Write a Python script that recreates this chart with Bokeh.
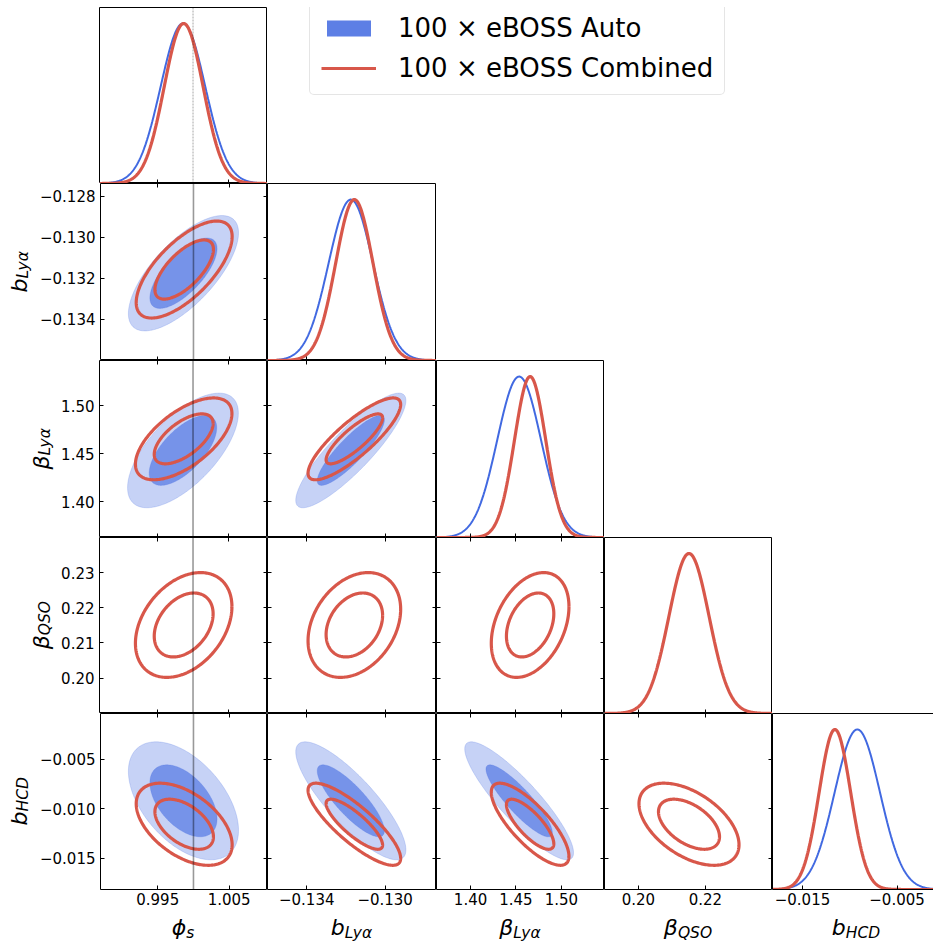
import numpy as np
from bokeh.plotting import figure
from bokeh.models import Range1d, FixedTicker, LinearAxis, Span, Legend, LegendItem, Div
from bokeh.layouts import column, row
from bokeh.embed import file_html
from bokeh.resources import INLINE

# ---------------- data ----------------
param_symbols = ["ϕ", "b", "β", "β", "b"]
param_subscripts = ["s", "Lyα", "Lyα", "QSO", "HCD"]
param_limits = [(0.98699, 1.01036), (-0.13600, -0.12738), (1.3625, 1.5475),
                (0.1899, 0.2400), (-0.01817, -0.00037)]

x_tick_values = [[0.995, 1.005], [-0.134, -0.130], [1.40, 1.45, 1.50], [0.20, 0.22], [-0.015, -0.005]]
x_tick_labels = [["0.995", "1.005"], ["−0.134", "−0.130"], ["1.40", "1.45", "1.50"],
                 ["0.20", "0.22"], ["−0.015", "−0.005"]]
y_tick_values = [[], [-0.134, -0.132, -0.130, -0.128], [1.40, 1.45, 1.50],
                 [0.20, 0.21, 0.22, 0.23], [-0.015, -0.010, -0.005]]
y_tick_labels = [[], ["−0.134", "−0.132", "−0.130", "−0.128"], ["1.40", "1.45", "1.50"],
                 ["0.20", "0.21", "0.22", "0.23"], ["−0.015", "−0.010", "−0.005"]]

phi_s_reference = 1.0

auto_label = "100 × eBOSS Auto"
auto_means = [0.99860, -0.13175, 1.4535, None, -0.0092]
auto_sigmas = [0.0031, 0.00113, 0.0241, None, 0.0024]
auto_corr = {(0, 1): 0.70, (0, 2): 0.65, (0, 4): -0.50,
             (1, 2): 0.87, (1, 4): -0.83, (2, 4): -0.88}

comb_label = "100 × eBOSS Combined"
comb_means = [0.99870, -0.13157, 1.4656, 0.2151, -0.01157]
comb_sigmas = [0.0027, 0.00095, 0.0172, 0.0060, 0.00167]
comb_corr = {(0, 1): 0.68, (0, 2): 0.62, (0, 3): 0.35, (0, 4): -0.50,
             (1, 2): 0.84, (1, 3): 0.30, (1, 4): -0.83,
             (2, 3): 0.35, (2, 4): -0.78, (3, 4): -0.50}

contour_delta_chi2 = [2.30, 6.18]   # 68% and 95% levels

# ---------------- layout / style ----------------
col_edges = [99, 267, 436, 604, 772, 933]
row_edges = [7, 183, 360, 537, 713, 889]
bottom_tick_band = 28
title_band = 27
full_panel_w = 168.3
ytitle_width = [0, 36, 58, 58, 36]

BLUE = "#4169E1"
RED = "#D8574A"
FONT = "DejaVu Sans"
N = len(param_symbols)


def title_html(i):
    return (f"{param_symbols[i]}<sub style=\"font-size:15.5px;vertical-align:-3px;"
            f"line-height:0\">{param_subscripts[i]}</sub>")


def tick_axis(p, side, ticks, labels=None, line=False):
    ax = LinearAxis(ticker=FixedTicker(ticks=ticks, minor_ticks=[]))
    ax.axis_line_color = "black" if line else None
    ax.major_tick_in = 4
    ax.major_tick_out = 0
    ax.major_tick_line_color = "black"
    ax.major_tick_line_width = 1
    ax.minor_tick_line_color = None
    if labels:
        ax.major_label_overrides = {t: l for t, l in zip(ticks, labels)}
        ax.major_label_text_font = FONT
        ax.major_label_text_font_size = "15px"
        ax.major_label_text_color = "black"
        ax.major_label_standoff = 5 if side == "left" else 3
    else:
        ax.major_label_overrides = {t: "" for t in ticks}
        ax.major_label_text_font_size = "0px"
        ax.major_label_standoff = 0
    p.add_layout(ax, side)
    return ax


def ellipse(mx, my, sx, sy, rho, k, n=240):
    t = np.linspace(0, 2 * np.pi, n)
    x = mx + k * sx * np.cos(t)
    y = my + k * sy * (rho * np.cos(t) + np.sqrt(1 - rho ** 2) * np.sin(t))
    return x, y


def make_panel(r, c):
    fw = col_edges[c + 1] - col_edges[c]
    fh = row_edges[r + 1] - row_edges[r]
    bl = (col_edges[0] - ytitle_width[r]) if c == 0 else 0
    bt = row_edges[0] if r == 0 else 0
    bb = bottom_tick_band if r == N - 1 else 0
    x0, x1 = param_limits[c]
    if c == N - 1:
        x1 = x0 + (x1 - x0) * fw / full_panel_w
    yr = Range1d(0, 1.1) if r == c else Range1d(*param_limits[r])
    p = figure(width=fw + bl, height=fh + bt + bb, x_range=Range1d(x0, x1), y_range=yr,
               x_axis_type=None, y_axis_type=None, toolbar_location=None,
               output_backend="svg", min_border_left=bl, min_border_right=0,
               min_border_top=bt, min_border_bottom=bb, margin=0)
    p.outline_line_color = "black"
    p.outline_line_width = 1
    p.border_fill_color = "white"
    p.background_fill_color = "white"
    return p, fw, fh


panels = {}
for r in range(N):
    for c in range(r + 1):
        p, fw, fh = make_panel(r, c)
        last_col = (c == N - 1)
        if last_col:
            p.outline_line_color = None
        xl = x_tick_labels[c] if r == N - 1 else None
        tick_axis(p, "below", x_tick_values[c], xl, line=last_col)
        if r == c:
            if last_col:
                tick_axis(p, "left", [], None, line=True)
                tick_axis(p, "above", [], None, line=True)
            xs = np.linspace(param_limits[c][0], param_limits[c][1], 400)
            if auto_means[c] is not None:
                p.line(xs, np.exp(-0.5 * ((xs - auto_means[c]) / auto_sigmas[c]) ** 2),
                       line_color=BLUE, line_width=2)
            p.line(xs, np.exp(-0.5 * ((xs - comb_means[c]) / comb_sigmas[c]) ** 2),
                   line_color=RED, line_width=3.2)
            if c == 0:
                p.add_layout(Span(location=phi_s_reference, dimension="height",
                                  line_color="black", line_alpha=0.35, line_width=1,
                                  line_dash="2 1"))
        else:
            yl = y_tick_labels[r] if c == 0 else None
            tick_axis(p, "left", y_tick_values[r], yl)
            tick_axis(p, "right", y_tick_values[r], None)
            tick_axis(p, "above", x_tick_values[c], None)
            if auto_means[c] is not None and auto_means[r] is not None:
                rho = auto_corr[(c, r)]
                for dchi2, alpha in zip(contour_delta_chi2[::-1], [0.3, 0.6]):
                    ex, ey = ellipse(auto_means[c], auto_means[r], auto_sigmas[c],
                                     auto_sigmas[r], rho, np.sqrt(dchi2))
                    p.patch(ex, ey, fill_color=BLUE, fill_alpha=alpha,
                            line_color=BLUE, line_alpha=0.25, line_width=0.8)
            rho = comb_corr[(c, r)]
            for dchi2 in contour_delta_chi2:
                ex, ey = ellipse(comb_means[c], comb_means[r], comb_sigmas[c],
                                 comb_sigmas[r], rho, np.sqrt(dchi2))
                p.line(ex, ey, line_color=RED, line_width=3.2, line_join="round")
            if c == 0:
                p.add_layout(Span(location=phi_s_reference, dimension="height",
                                  line_color="black", line_alpha=0.4, line_width=1.6))
        panels[(r, c)] = p

# legend holder spanning the empty upper-right area of the first row
leg_fig = figure(width=col_edges[N] - col_edges[1], height=row_edges[1], x_range=Range1d(0, 1),
                 y_range=Range1d(0, 1), x_axis_type=None, y_axis_type=None,
                 toolbar_location=None, output_backend="svg", min_border=0, margin=0)
leg_fig.outline_line_color = None
r_auto = leg_fig.quad(left=[-3], right=[-2], bottom=[-3], top=[-2], fill_color=BLUE,
                      fill_alpha=0.85, line_color=None)
r_comb = leg_fig.line(x=[-3, -2], y=[-3, -2], line_color=RED, line_width=3)
legend = Legend(items=[LegendItem(label=auto_label, renderers=[r_auto]),
                       LegendItem(label=comb_label, renderers=[r_comb])],
                location=(42, 88), label_text_font=FONT, label_text_font_size="26px",
                label_text_color="black",
                glyph_width=55, glyph_height=20, label_standoff=22, padding=11, spacing=10,
                border_line_color="#cccccc", border_line_width=1, background_fill_alpha=1,
                margin=0)
if "border_radius" in Legend.properties():
    legend.border_radius = 5
leg_fig.add_layout(legend)

rows = [row(panels[(0, 0)], leg_fig, spacing=0, margin=0)]
for r in range(1, N):
    fh = row_edges[r + 1] - row_edges[r] + (bottom_tick_band if r == N - 1 else 0)
    ph = row_edges[r + 1] - row_edges[r]
    w = ytitle_width[r]
    ytitle = Div(
        text=(f"<div style=\"width:{w}px;height:{ph}px;display:flex;align-items:center;"
              f"justify-content:flex-end;\"><span style=\"writing-mode:vertical-rl;"
              f"transform:rotate(180deg);font-family:'{FONT}';font-style:italic;"
              f"font-size:22px;line-height:24px;margin-right:4px;color:black;"
              f"white-space:nowrap\">{title_html(r)}</span></div>"),
        width=w, height=fh, margin=0, styles={"overflow": "visible"})
    rows.append(row(ytitle, *[panels[(r, c)] for c in range(r + 1)], spacing=0, margin=0))

xtitles = []
for c in range(N):
    fw = col_edges[c + 1] - col_edges[c]
    lead = col_edges[0] if c == 0 else 0
    full_w = fw if c < N - 1 else int(round(full_panel_w))
    xtitles.append(Div(
        text=(f"<div style=\"width:{full_w}px;margin-left:{lead}px;text-align:center;"
              f"font-family:'{FONT}';font-style:italic;font-size:22px;line-height:22px;"
              f"color:black;white-space:nowrap\">{title_html(c)}</div>"),
        width=fw + lead, height=title_band, margin=0, styles={"overflow": "visible"}))
rows.append(row(*xtitles, spacing=0, margin=0))

layout = column(*rows, spacing=0, margin=0)

open("out.html", "w").write(file_html(layout, INLINE))
